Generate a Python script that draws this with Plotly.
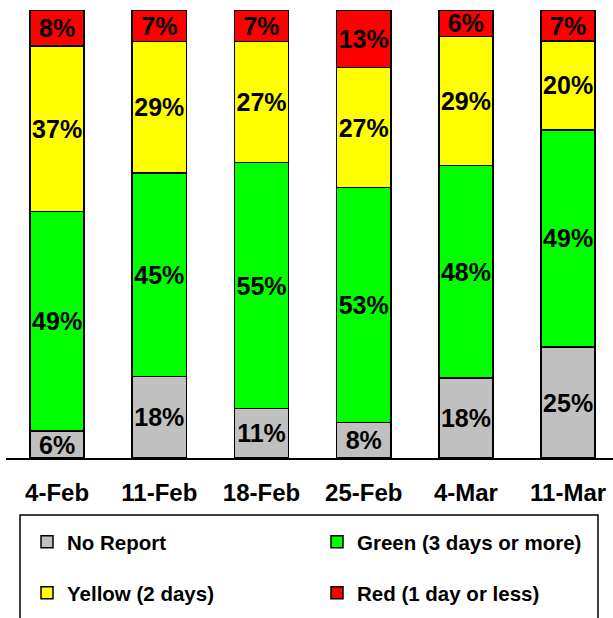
import plotly.graph_objects as go

# Weekly status shares (percent of sites), stacked bottom-to-top
weeks = ["4-Feb", "11-Feb", "18-Feb", "25-Feb", "4-Mar", "11-Mar"]
no_report = [6, 18, 11, 8, 18, 25]
green = [49, 45, 55, 53, 48, 49]
yellow = [37, 29, 27, 27, 29, 20]
red = [8, 7, 7, 13, 6, 7]

series = [
    ("No Report", no_report, "#C0C0C0", "legend"),
    ("Green (3 days or more)", green, "#00FF00", "legend2"),
    ("Yellow (2 days)", yellow, "#FFFF00", "legend3"),
    ("Red (1 day or less)", red, "#FF0000", "legend4"),
]

FONT = "Liberation Sans, Arial, sans-serif"

fig = go.Figure()
for name, vals, color, leg in series:
    fig.add_trace(go.Bar(
        x=weeks,
        y=vals,
        name=name,
        legend=leg,
        marker=dict(color=color, line=dict(color="#000000", width=1.5)),
        text=[f"{v}%" for v in vals],
        textposition="inside",
        insidetextanchor="middle",
        textangle=0,
        constraintext="none",
        textfont=dict(family=FONT, size=25, color="#000000", weight="bold"),
    ))

# Plot area spans pixel x 6..613 and y 9.5..458 of the 613x618 page
L, R, T, B = 6, 0, 9.5, 160
W, H = 613, 618
pw, ph = W - L - R, H - T - B


def px_x(x):
    return (x - L) / pw


def px_y(y):
    return (H - B - y) / ph


legend_style = dict(
    font=dict(family=FONT, size=20.5, color="#000000", weight="bold"),
    bgcolor="rgba(0,0,0,0)",
    borderwidth=0,
    xanchor="left",
    yanchor="middle",
    itemwidth=30,
)

fig.update_layout(
    width=W,
    height=H,
    margin=dict(l=L, r=R, t=T, b=B, pad=0),
    paper_bgcolor="white",
    plot_bgcolor="white",
    barmode="stack",
    barnorm="percent",
    bargap=0.47,
    showlegend=True,
    legend=dict(x=px_x(27), y=px_y(542), **legend_style),
    legend2=dict(x=px_x(317), y=px_y(542), **legend_style),
    legend3=dict(x=px_x(27), y=px_y(593), **legend_style),
    legend4=dict(x=px_x(317), y=px_y(593), **legend_style),
    xaxis=dict(
        range=[-0.5, -0.5 + pw / 102.2],
        showline=True,
        linecolor="#000000",
        linewidth=1.5,
        ticks="",
        ticklabelstandoff=12,
        showgrid=False,
        zeroline=False,
        tickfont=dict(family=FONT, size=24, color="#000000", weight="bold"),
        fixedrange=True,
    ),
    yaxis=dict(
        range=[0, 100],
        visible=False,
        showgrid=False,
        zeroline=False,
        fixedrange=True,
    ),
    shapes=[
        dict(
            type="rect",
            xref="paper",
            yref="paper",
            x0=px_x(20),
            x1=px_x(598),
            y0=px_y(515),
            y1=px_y(640),
            line=dict(color="#000000", width=1.5),
            fillcolor="rgba(0,0,0,0)",
            layer="below",
        )
    ],
)

fig.write_html("out.html")
